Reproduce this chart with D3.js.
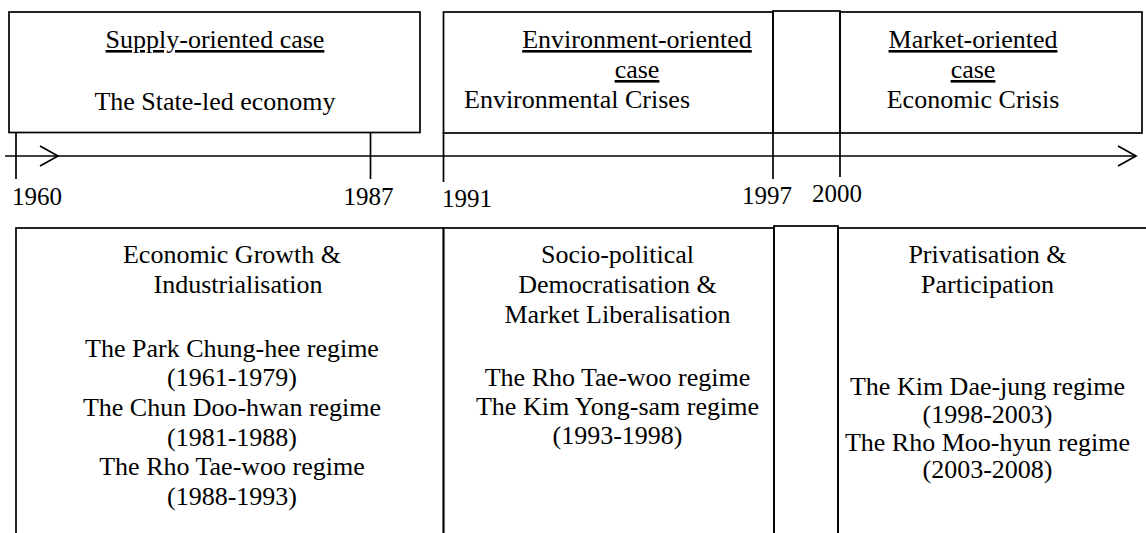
<!DOCTYPE html>
<html><head><meta charset="utf-8">
<script src="https://cdn.jsdelivr.net/npm/d3@7"></script>
<style>
body{margin:0;background:#fff}
svg{display:block}
</style>
</head><body>
<svg id="c" width="1146" height="533"></svg>
<script>
// ---- data ----
const years = [1960, 1987, 1991, 1997, 2000];
const yearLabels = ["1960", "1987", "1991", "1997", "2000"];
const topTitles = [["Supply-oriented case"], ["Environment-oriented", "case"], ["Market-oriented", "case"]];
const topSubtitles = ["The State-led economy", "Environmental Crises", "Economic Crisis"];
const bottomHeadings = [
  ["Economic Growth &", "Industrialisation"],
  ["Socio-political", "Democratisation &", "Market Liberalisation"],
  ["Privatisation &", "Participation"]
];
const bottomRegimes = [
  ["The Park Chung-hee regime", "(1961-1979)", "The Chun Doo-hwan regime", "(1981-1988)", "The Rho Tae-woo regime", "(1988-1993)"],
  ["The Rho Tae-woo regime", "The Kim Yong-sam regime", "(1993-1998)"],
  ["The Kim Dae-jung regime", "(1998-2003)", "The Rho Moo-hyun regime", "(2003-2008)"]
];

// ---- layout ----
const FONT = '"Liberation Serif", "Times New Roman", Times, serif';
const svg = d3.select("#c");
const x = d3.scaleLinear().domain([1960, 1987, 1991, 1997, 2000, 2008]).range([16, 370.5, 443.5, 773, 840, 1136]);
const axisY = 156;
const SW = 1.7;
const FS = 26;

function rect(x0, y0, x1, y1) {
  svg.append("rect").attr("x", x0).attr("y", y0).attr("width", x1 - x0).attr("height", y1 - y0)
    .attr("fill", "none").attr("stroke", "#000").attr("stroke-width", SW);
}
function line(x0, y0, x1, y1) {
  svg.append("line").attr("x1", x0).attr("y1", y0).attr("x2", x1).attr("y2", y1)
    .attr("stroke", "#000").attr("stroke-width", SW);
}
function txt(s, xx, yy, anchor, size, underline) {
  const t = svg.append("text").attr("x", xx).attr("y", yy)
    .attr("text-anchor", anchor).attr("font-size", size)
    .attr("fill", "#000")
    .style("font-family", FONT).text(s);
  if (underline) t.style("text-decoration", "underline");
  return t;
}

// top boxes
rect(9, 12, 420, 132.5);
rect(x(1991), 12, x(1997), 133);
rect(x(1997), 11, x(2000), 133);
rect(x(2000), 12, 1142, 133);

// axis
line(5, axisY, 1136, axisY);
svg.append("path").attr("d", "M40,146 L58,156 L40,166").attr("fill", "none").attr("stroke", "#000").attr("stroke-width", SW);
svg.append("path").attr("d", "M1118,146 L1136,156 L1118,166").attr("fill", "none").attr("stroke", "#000").attr("stroke-width", SW);

// ticks
const tickEnds = [179, 179, 182, 179, 177];
years.forEach((yr, i) => line(x(yr), 132.5, x(yr), tickEnds[i]));

// year labels
const yearLayout = [
  {dx: -4, anchor: "start", y: 205},
  {dx: 23, anchor: "end", y: 205},
  {dx: -1.5, anchor: "start", y: 207},
  {dx: 19, anchor: "end", y: 204},
  {dx: -28, anchor: "start", y: 202}
];
yearLabels.forEach((d, i) => txt(d, x(years[i]) + yearLayout[i].dx, yearLayout[i].y, yearLayout[i].anchor, 25, false));

// top texts
const topCenters = [215, 637, 973];
topTitles.forEach((lines, i) => {
  lines.forEach((t, j) => txt(t, topCenters[i], 48 + j * 30, "middle", FS, true));
});
const subLayout = [
  {x: 215, y: 110, anchor: "middle"},
  {x: 464, y: 108, anchor: "start"},
  {x: 973, y: 108, anchor: "middle"}
];
topSubtitles.forEach((t, i) => txt(t, subLayout[i].x, subLayout[i].y, subLayout[i].anchor, FS, false));

// bottom boxes
rect(x(1960), 228, x(1991), 560);
rect(x(1991), 228, x(1997) + 1, 560);
rect(x(1997) + 1, 226, x(2000) - 2, 560);
rect(x(2000) - 2, 228, 1160, 560);

const botLayout = [
  {cx: 232, hy: 263, hlh: 30, ry: 356.5, rlh: 29.7, hdx: [0, 6]},
  {cx: 617.5, hy: 263, hlh: 30, ry: 385.5, rlh: 29.3, hdx: [0, 0, 0]},
  {cx: 987.5, hy: 263, hlh: 30, ry: 395, rlh: 27.8, hdx: [0, 0]}
];
bottomHeadings.forEach((lines, i) => {
  const L = botLayout[i];
  lines.forEach((t, j) => txt(t, L.cx + L.hdx[j], L.hy + j * L.hlh, "middle", FS, false));
  bottomRegimes[i].forEach((t, j) => txt(t, L.cx, L.ry + j * L.rlh, "middle", FS, false));
});
</script>
</body></html>
